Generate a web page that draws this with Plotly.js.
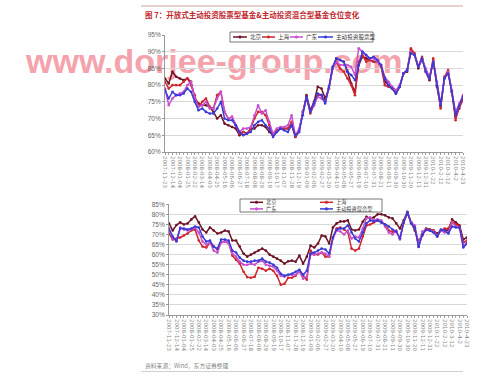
<!DOCTYPE html>
<html><head><meta charset="utf-8">
<script src="https://cdn.plot.ly/plotly-3.0.1.min.js"></script>
<style>
html,body{margin:0;padding:0;background:#fff;}
#wrap{position:relative;width:499px;height:378px;}
#wm{position:absolute;left:0;top:0;z-index:0;}
#chart{position:absolute;left:0;top:0;width:499px;height:378px;z-index:1;}
</style>
</head><body><div id="wrap">
<svg id="wm" width="499" height="378"><text x="26" y="73" font-family="Liberation Sans, Arial, sans-serif" font-weight="bold" font-size="34" fill="#f4a3ac">www.dorjee-group.com</text></svg>
<div id="chart"></div></div>
<script>
// ---- data: top chart (主动投资股票型基金仓位, %) ----
const labelsTop = ["2007-11-23","2007-12-14","2008-01-04","2008-01-25","2008-02-22","2008-03-14","2008-04-03","2008-04-25","2008-05-16","2008-06-06","2008-06-27","2008-07-18","2008-08-08","2008-08-29","2008-09-19","2008-10-17","2008-11-07","2008-11-28","2008-12-19","2009-01-09","2009-02-06","2009-02-27","2009-03-20","2009-04-10","2009-05-08","2009-05-27","2009-06-19","2009-07-10","2009-07-31","2009-08-21","2009-09-11","2009-09-30","2009-10-30","2009-11-20","2009-12-11","2009-12-31","2010-1-22","2010-2-12","2010-3-12","2010-4-2","2010-4-23"];
const bjTop = [82,80.5,84,82.5,82,81.5,82,81,76,74.5,74,74,73.5,72,70,71,68.5,68,67.5,67,65,66,65.5,67,67,68,68,67.5,66,65,66,67,67,67,68,64.5,66.5,72,77,72.5,75,79.5,79,76,79,85,88,87.5,87,84,80.5,78,86,88.5,88,87.5,87,87,86,81,80,79,77.5,79.5,83.5,84,90.5,89,85,88,84,81.5,87.5,79.5,73.5,82,84,78,70.5,73,76];
const shTop = [81,79,80,80,80,81,82,80,77,73.5,75,76,73.5,73,77,78,72,70,70.5,68,65.5,66,65.5,67,70,72,72,71,68,65,66.5,67,67,67,69,64.5,66,72,76.5,71.5,74,77,77,75,79,85,87,85,84,82,80,77,87,89,87,87.5,87,87,85.5,80,79.5,79,78,79.5,83.5,84.5,91,89.5,85.5,88.5,84.5,82,88,80,73,82.5,84.5,78,69.5,73.5,75.5];
const gdTop = [79,74,76,77,77.5,78,80,81,76,73.5,74,75,73,73,76,78,72,70,70.5,68,66,67,67,67.5,71,74,71.5,72.5,69,65.5,67,67.5,67.5,68,71,65,67,72,76,72,74,76.5,76,75,79,85,87,86,86,86,85.5,83,91,90,89,88,88,87,86,82.5,81,79.5,78.5,80,83.5,84.5,90,89,85.5,87.5,85,82.5,87,81,74.5,82,84,78.5,72,74.5,77];
const stockTop = [78.5,76,78,77,77,77.5,79,78,75,72.5,73,72,71.5,71.5,73,75,70,69.5,69.5,68,66,65,65.5,66,68,69,69.5,68,67,64.5,66,67,66.5,66,68,65,66,71,76.5,72,74.5,77.5,77,74.5,79.5,85.5,88,87.5,87,84,83,81.5,86,90,89,88,88.5,87.5,86,82,80,79,77.5,79.5,83.5,84.5,89.5,89,85.5,88,84,82,87,80,74,82,83.5,78,71,74,76.5];

// ---- data: bottom chart (主动投资混合型基金仓位, %) ----
const labelsBot = labelsTop.slice();
const bjBot = [75.5,72,74.7,76,75,75.5,77.5,79,76,72.5,71,73.5,72,70.5,71,72,71.5,67,67,64,60.5,59,60,61,62,63,62,60,59,58,57,55.5,56.7,57,56.5,59.5,55.5,59,64.5,63.5,65.5,69.5,69,65.5,73.5,75.5,76.5,76.5,77,72.5,72,72.5,76.3,78.8,78,78.5,80,80,79.5,78.5,78,75.5,73,77,81.3,76,72,66.5,69.5,73,72.5,72,70.5,72,72.5,72,77.5,76,74.5,67.5,68.5];
const shBot = [70.5,67.5,68,68.5,69.5,70.5,72,72.5,67,64,63.5,66,64,62.5,66,66.5,66,59.5,57.5,55.5,51.5,48.8,48.5,49,53.5,53,52,53,52,49.5,45,45.5,48.5,48.5,49.5,52,49.5,47.5,62,60,60,61,59,59,68.5,73,73.5,72.5,71.3,63,62,63,69,74.5,75,76,77,76,75,72,71.3,71.5,68,76,80.5,76,73,64,70,72.5,72.5,72,69,72,73,73,76.5,75,74,66,67];
const gdBot = [72,68,67,73.5,72.5,72,72.5,73.5,71,66.5,65,66,62,61,66,66.5,65.5,60.5,59,56.5,55,55,55.5,55,56.5,57,55,54.5,54,52,49.5,49,50,50,50,51.5,48,49,60,60,60.5,61,60.5,59,68,72,71.5,70,72,68,69,68.5,73,78,78.5,77,77.5,77,74,71,70,72,67.5,76,81,76,74.5,65,71.5,72.5,72,71.5,69.5,72,71,71,76,74,73,64.5,66];
const mixBot = [73,69,66.5,73,73,72.5,73,74,73.5,69,66.5,67,64,63,67.5,67.5,67,62,61,58.5,57,56.5,56.5,57,57,58,56.5,56,55,53.5,50.5,49.5,50,50.5,51.5,52.5,50,52,60.5,61,62,63,62.5,60.5,68.5,72.5,73,73,74.5,71,68,66.5,71,75.5,77,76.5,77,76,75,74,72.5,71.5,68,76,81,75.5,73.5,63.8,70,72.2,72,71,69,72.5,72,70.5,74,73.5,73.5,63.5,65.5];

const namesTop = ["北京","上海","广东","主动投资股票型"];
const namesBot = ["北京","上海","广东","主动投资混合型"];
const colors = ["#6e1426","#d0262e","#c850d0","#3a3ad8"];

const W = 499, H = 378;
const px = x => x / W, py = y => 1 - y / H;

function mk(vals, name, color, xa, ya) {
  return {x: vals.map((_, i) => i), y: vals, name: name, xaxis: xa, yaxis: ya,
    type: 'scatter', mode: 'lines+markers', line: {color: color, width: 1.5},
    marker: {color: color, size: 2.6}, hoverinfo: 'skip'};
}
const data = [
  mk(bjTop, namesTop[0], colors[0], 'x', 'y'),
  mk(shTop, namesTop[1], colors[1], 'x', 'y'),
  mk(gdTop, namesTop[2], colors[2], 'x', 'y'),
  mk(stockTop, namesTop[3], colors[3], 'x', 'y'),
  mk(bjBot, namesBot[0], colors[0], 'x2', 'y2'),
  mk(shBot, namesBot[1], colors[1], 'x2', 'y2'),
  mk(gdBot, namesBot[2], colors[2], 'x2', 'y2'),
  mk(mixBot, namesBot[3], colors[3], 'x2', 'y2')
];

function xAxis(domain, labels, n, anchor) {
  return {domain: domain, anchor: anchor, range: [0, n - 1], tickmode: 'array',
    tickvals: labels.map((_, i) => i * 2), ticktext: labels, tickangle: 90,
    tickfont: {size: 5.5, color: '#888', family: 'DejaVu Sans'}, showgrid: false, zeroline: false,
    showline: true, linecolor: '#999', linewidth: 1, ticks: 'outside', ticklen: 2, tickcolor: '#999',
    minor: {ticks: 'outside', ticklen: 2, tickcolor: '#aaa', dtick: 1, tick0: 0, showgrid: false}};
}
function yAxis(domain, range, anchor) {
  return {domain: domain, anchor: anchor, range: range, dtick: 5, ticksuffix: '%',
    tickfont: {size: 6.5, color: '#666', family: 'Liberation Sans'}, showgrid: true, gridcolor: '#d9d9d9',
    gridwidth: 1, zeroline: false, showline: true, linecolor: '#999', ticks: 'outside', ticklen: 2, tickcolor: '#999'};
}

const shapes = [];
const annotations = [];
shapes.push({type: 'line', xref: 'paper', yref: 'paper', x0: px(141), x1: px(463), y0: py(6), y1: py(6), line: {color: '#d4a2a2', width: 1}});
shapes.push({type: 'line', xref: 'paper', yref: 'paper', x0: px(141), x1: px(463), y0: py(371.5), y1: py(371.5), line: {color: '#cfcfcf', width: 1}});

annotations.push({xref: 'paper', yref: 'paper', x: px(143), y: py(15), xanchor: 'left', yanchor: 'middle', showarrow: false,
  text: '<b>图 7：开放式主动投资股票型基金&主动投资混合型基金仓位变化</b>', font: {size: 7.5, color: '#c0282d', family: 'Noto Sans CJK SC'}});
annotations.push({xref: 'paper', yref: 'paper', x: px(143), y: py(365), xanchor: 'left', yanchor: 'middle', showarrow: false,
  text: '资料来源：Wind，东方证券整理', font: {size: 5.8, color: '#888', family: 'Noto Sans CJK SC'}});

function legBox(x0, x1, y0, y1) {
  shapes.push({type: 'rect', xref: 'paper', yref: 'paper', x0: px(x0), x1: px(x1), y0: py(y1), y1: py(y0),
    fillcolor: '#fff', line: {color: '#555', width: 0.8}});
}
function legItem(x, y, color, name, len, fs) {
  shapes.push({type: 'line', xref: 'paper', yref: 'paper', x0: px(x), x1: px(x + len), y0: py(y), y1: py(y), line: {color: color, width: 1.5}});
  shapes.push({type: 'circle', xref: 'paper', yref: 'paper', x0: px(x + len / 2 - 1.3), x1: px(x + len / 2 + 1.3), y0: py(y + 1.3), y1: py(y - 1.3), fillcolor: color, line: {color: color, width: 0.5}});
  annotations.push({xref: 'paper', yref: 'paper', x: px(x + len + 1.5), y: py(y), xanchor: 'left', yanchor: 'middle', showarrow: false,
    text: name, font: {size: fs, color: '#333', family: 'Noto Sans CJK SC'}, borderpad: 0});
}
legBox(230, 373, 32, 42);
legItem(233, 37, colors[0], namesTop[0], 14, 5.6);
legItem(262, 37, colors[1], namesTop[1], 13, 5.6);
legItem(290, 37, colors[2], namesTop[2], 13, 5.6);
legItem(318, 37, colors[3], namesTop[3], 15, 5.6);

legBox(240, 382, 199, 212);
legItem(250, 202.3, colors[0], namesBot[0], 13, 5.2);
legItem(320, 202.3, colors[1], namesBot[1], 13, 5.2);
legItem(250, 208.9, colors[2], namesBot[2], 13, 5.2);
legItem(320, 208.9, colors[3], namesBot[3], 13, 5.2);

const layout = {
  width: W, height: H, margin: {l: 0, r: 0, t: 0, b: 0},
  paper_bgcolor: 'rgba(0,0,0,0)', plot_bgcolor: 'rgba(0,0,0,0)',
  showlegend: false,
  xaxis: xAxis([px(165), px(463)], labelsTop, bjTop.length, 'y'),
  yaxis: yAxis([py(152), py(35)], [60, 95], 'x'),
  xaxis2: xAxis([px(169), px(467)], labelsBot, bjBot.length, 'y2'),
  yaxis2: yAxis([py(315), py(204.3)], [30, 85], 'x2'),
  shapes: shapes, annotations: annotations
};
Plotly.newPlot('chart', data, layout, {staticPlot: true, displayModeBar: false});
</script></body></html>
